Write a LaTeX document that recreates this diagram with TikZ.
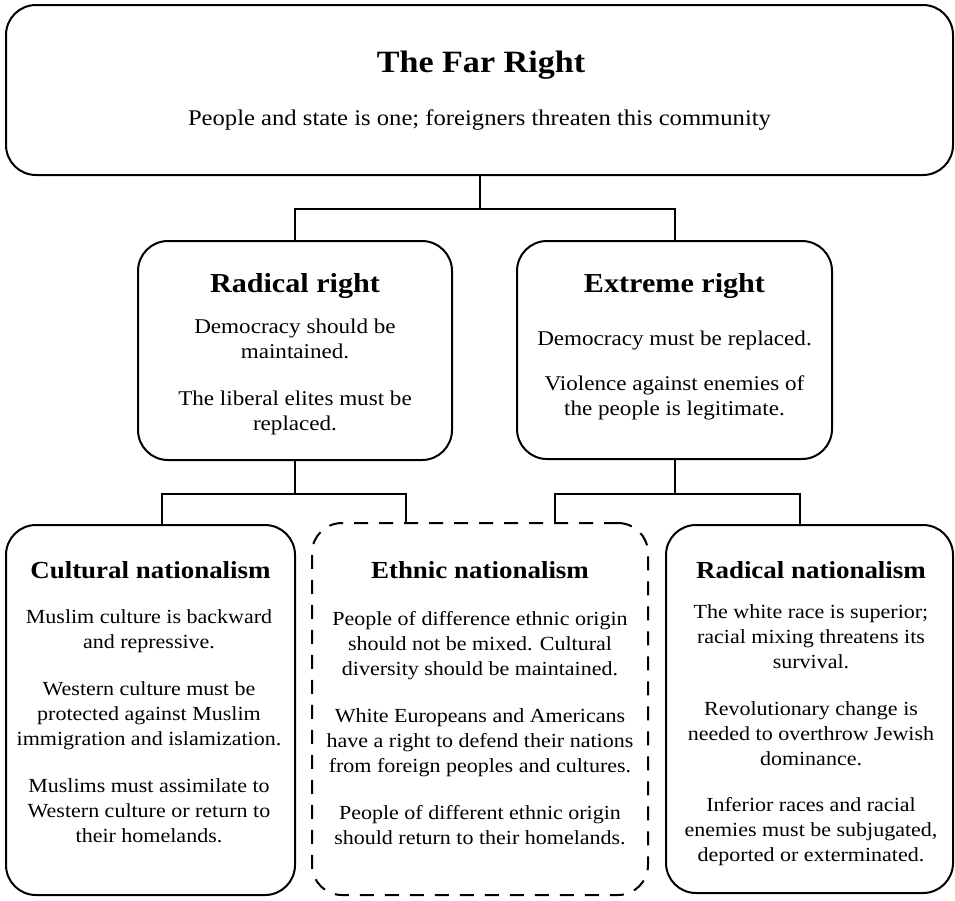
\documentclass[tikz,border=0pt]{standalone}
\usepackage{fontspec}
\setmainfont{Liberation Serif}[FakeStretch=1.1]
\begin{document}
\begin{tikzpicture}[x=1pt,y=-1pt,
  box/.style={draw, line width=2pt, rounded corners=30pt, inner sep=0pt},
  dbox/.style={box, dash pattern=on 14pt off 11pt},
  link/.style={line width=2pt},
  ttl/.style={anchor=base, inner sep=0pt, font=\bfseries\fontsize{#1}{#1}\selectfont},
  body/.style={anchor=base, inner sep=0pt, font=\fontsize{#1}{25}\selectfont},
]
\useasboundingbox (0,0) rectangle (955,900);

% boxes
\node[box, minimum width=947pt, minimum height=170pt] (far) at (479.5,90) {};
\node[box, minimum width=314pt, minimum height=219pt] (rr) at (295,350.5) {};
\node[box, minimum width=315pt, minimum height=218pt] (er) at (674.5,350) {};
\node[box, minimum width=289pt, minimum height=370pt] (cn) at (150.5,710) {};
\node[dbox, minimum width=336pt, minimum height=372pt] (en) at (480,709) {};
\node[box, minimum width=287pt, minimum height=368pt] (rn) at (809.5,709) {};

% top level
\node[ttl=31] (farT) at (481,72.5) {The Far Right};
\node[body=22.4] (farB) at (479.5,125) {People and state is one; foreigners threaten this community};

% middle level
\node[ttl=27.4] (rrT) at (295,292) {Radical right};
\node[body=21] (rrB) at (295,333) {\begin{tabular}[t]{@{}c@{}}Democracy should be\\ maintained.\\[22pt] The liberal elites must be\\ replaced.\end{tabular}};
\node[ttl=27.4] (erT) at (674.5,292) {Extreme right};
\node[body=21] (erB) at (674.5,345) {\begin{tabular}[t]{@{}c@{}}Democracy must be replaced.\\[20pt] Violence against enemies of\\ the people is legitimate.\end{tabular}};

% bottom level
\node[ttl=24.5] (cnT) at (150.5,578) {Cultural nationalism};
\node[body=20] (cnB) at (149,623) {\begin{tabular}[t]{@{}c@{}}Muslim culture is backward\\ and repressive.\\[22pt] Western culture must be\\ protected against Muslim\\ immigration and islamization.\\[22pt] Muslims must assimilate to\\ Western culture or return to\\ their homelands.\end{tabular}};
\node[ttl=24.5] (enT) at (480,578) {Ethnic nationalism};
\node[body=20] (enB) at (480,625) {\begin{tabular}[t]{@{}c@{}}People of difference ethnic origin\\ should not be mixed. Cultural\\ diversity should be maintained.\\[22pt] White Europeans and Americans\\ have a right to defend their nations\\ from foreign peoples and cultures.\\[22pt] People of different ethnic origin\\ should return to their homelands.\end{tabular}};
\node[ttl=24.5] (rnT) at (811,578) {Radical nationalism};
\node[body=20] (rnB) at (811,618) {\begin{tabular}[t]{@{}c@{}}The white race is superior;\\ racial mixing threatens its\\ survival.\\[22pt] Revolutionary change is\\ needed to overthrow Jewish\\ dominance.\\[21pt] Inferior races and racial\\ enemies must be subjugated,\\ deported or exterminated.\end{tabular}};

% connectors
\coordinate (hubA) at (479.5,209);
\coordinate (hubB) at (295,494);
\coordinate (hubC) at (674.5,494);
\coordinate (cnIn) at (162,525);
\coordinate (enInL) at (406,523);
\coordinate (enInR) at (555,523);
\coordinate (rnIn) at (800,525);
\draw[link] (far.south) -- (hubA);
\draw[link] (rr.north) |- (hubA) -| (er.north);
\draw[link] (rr.south) -- (hubB);
\draw[link] (cnIn) |- (hubB) -| (enInL);
\draw[link] (er.south) -- (hubC);
\draw[link] (enInR) |- (hubC) -| (rnIn);
\end{tikzpicture}
\end{document}
